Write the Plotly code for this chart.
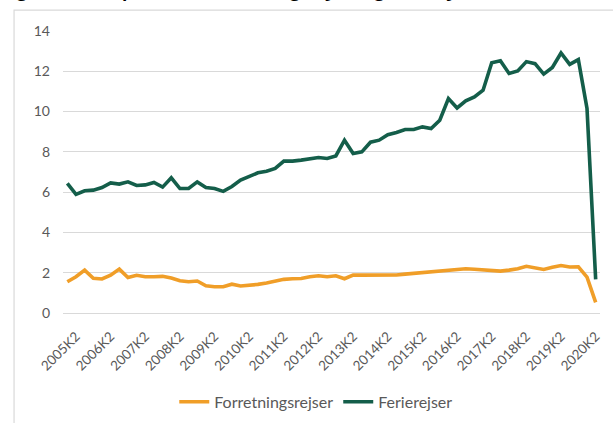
import plotly.graph_objects as go

# Quarterly periods 2005K1 .. 2020K2
years = list(range(2005, 2021))
quarters = [f"{y}K{q}" for y in years for q in range(1, 5)][:62]

# Million trips per quarter
forretningsrejser = [
    1.55, 1.80, 2.13, 1.72, 1.69, 1.88, 2.18, 1.76, 1.87, 1.80,
    1.80, 1.82, 1.74, 1.60, 1.55, 1.59, 1.35, 1.30, 1.30, 1.43,
    1.34, 1.37, 1.42, 1.49, 1.59, 1.67, 1.70, 1.71, 1.80, 1.85,
    1.80, 1.85, 1.70, 1.88, 1.88, 1.88, 1.88, 1.88, 1.89, 1.93,
    1.97, 2.00, 2.05, 2.05, 2.10, 2.17, 2.20, 2.17, 2.15, 2.10,
    2.08, 2.13, 2.20, 2.32, 2.25, 2.16, 2.27, 2.36, 2.28, 2.29,
    1.78, 0.53,
]
ferierejser = [
    6.43, 5.89, 6.07, 6.10, 6.23, 6.46, 6.40, 6.51, 6.33, 6.36,
    6.48, 6.25, 6.71, 6.18, 6.18, 6.51, 6.23, 6.18, 6.04, 6.28,
    6.60, 6.80, 6.96, 7.04, 7.18, 7.54, 7.54, 7.59, 7.67, 7.72,
    7.67, 7.80, 8.58, 7.92, 8.00, 8.48, 8.58, 8.85, 8.96, 9.11,
    9.11, 9.24, 9.16, 9.57, 10.65, 10.18, 10.53, 10.73, 11.06, 12.42,
    12.52, 11.89, 12.02, 12.48, 12.38, 11.86, 12.19, 12.91, 12.34, 12.58,
    10.15, 1.67,
]

y_ticks = [0, 2, 4, 6, 8, 10, 12, 14]
x_tick_labels = [q for q in quarters if q.endswith("K2")]

ORANGE = "#F09E28"
GREEN = "#145E4A"
GRID = "#D9D9D9"
TEXT = "#595959"
FONT = "Lato"

W, H = 613, 423
L, R, T, B = 62.5, 13, 30.5, 110
pw, ph = W - L - R, H - T - B


def px_x(x):
    return (x - L) / pw


def px_y(y):
    return (H - B - y) / ph


fig = go.Figure()
fig.add_trace(go.Scatter(
    x=quarters, y=forretningsrejser, name="Forretningsrejser",
    mode="lines", line=dict(color=ORANGE, width=3.6),
))
fig.add_trace(go.Scatter(
    x=quarters, y=ferierejser, name="Ferierejser",
    mode="lines", line=dict(color=GREEN, width=3.6),
))

fig.update_layout(
    width=W, height=H,
    margin=dict(l=L, r=R, t=T, b=B, autoexpand=False),
    paper_bgcolor="white", plot_bgcolor="white",
    font=dict(family=FONT, color=TEXT, size=12),
    showlegend=True,
    legend=dict(
        orientation="h", x=px_x(316), xanchor="center",
        y=px_y(402), yanchor="middle",
        font=dict(size=16, color=TEXT), itemwidth=30,
        traceorder="normal",
    ),
    xaxis=dict(
        type="category", categoryorder="array", categoryarray=quarters,
        range=[-0.5, len(quarters) - 0.5],
        tickmode="array", tickvals=x_tick_labels, ticktext=x_tick_labels,
        tickangle=-45, tickfont=dict(size=13.5, color=TEXT),
        showgrid=False, showline=False, zeroline=False,
        ticks="", ticklabelstandoff=12,
    ),
    yaxis=dict(
        range=[0, 14], tickvals=y_ticks,
        showgrid=True, gridcolor=GRID, gridwidth=1,
        zeroline=True, zerolinecolor=GRID, zerolinewidth=1,
        showline=False, ticks="", ticklabelstandoff=12,
        tickfont=dict(size=14, color=TEXT),
    ),
    shapes=[
        dict(
            type="path", xref="paper", yref="paper",
            path=(f"M {px_x(13.5)} {px_y(430)} L {px_x(13.5)} {px_y(9.5)} "
                  f"L {px_x(620)} {px_y(9.5)}"),
            line=dict(color=GRID, width=1.2),
        ),
    ],
    annotations=[
        dict(
            text="<b>Figur 1. Antal personer, forretningsrejser og ferierejser (i mio.)</b>",
            xref="paper", yref="paper", x=px_x(-1), y=px_y(3),
            xanchor="left", yanchor="bottom", showarrow=False,
            font=dict(family="Open Sans", size=17.5, color="black"),
        ),
    ],
)

fig.write_html("out.html")
